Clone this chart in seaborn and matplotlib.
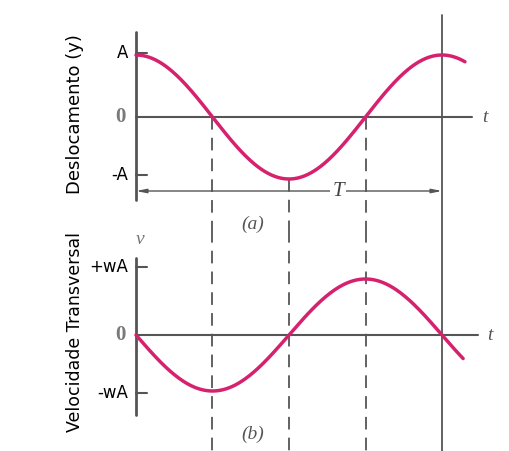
import numpy as np
import matplotlib
matplotlib.use("Agg")
import matplotlib.pyplot as plt
import seaborn as sns

# ---- data ----
period = 1.0                      # T
disp_amp = 1.0                    # A
vel_amp = 1.0                     # wA
t_end_top = 1.075                 # curve end (in units of T)
t_end_bot = 1.069
quarter_marks = [0.25, 0.5, 0.75]  # dashed guide lines
disp_ticks = [1.03, 0.0, -0.94]
disp_labels = ["A", "0", "-A"]
vel_ticks = [1.21, 0.0, -1.04]
vel_labels = ["+wA", "0", "-wA"]
ylabel_top = "Deslocamento (y)"
ylabel_bot = "Velocidade Transversal"

t_top = np.linspace(0, t_end_top, 300)
t_bot = np.linspace(0, t_end_bot, 300)
y_disp = disp_amp * np.cos(2 * np.pi * t_top / period)
y_vel = -vel_amp * np.sin(2 * np.pi * t_bot / period)

sns.set_style("white")
plt.rcParams["font.family"] = ["DejaVu Sans"]

W, H = 509, 451
fig = plt.figure(figsize=(W / 100, H / 100), dpi=100)
fig.patch.set_facecolor("white")

px_T = 306.0
x0 = 136.0
xlim = (-x0 / px_T, (W - x0) / px_T)

# top axes: rows 0..230, zero at row 117, 62 px per unit
top_h = 230
ax1 = fig.add_axes([0, 1 - top_h / H, 1, top_h / H])
u1 = 62.0
z1 = 117.0
ax1.set_xlim(*xlim)
ax1.set_ylim(-(top_h - z1) / u1, z1 / u1)

# bottom axes: rows 230..451, zero at row 335, 56 px per unit
bot_top = 230
ax2 = fig.add_axes([0, 0, 1, (H - bot_top) / H])
u2 = 56.0
z2 = 335.0
ax2.set_xlim(*xlim)
ax2.set_ylim(-(H - z2) / u2, (z2 - bot_top) / u2)

for ax in (ax1, ax2):
    ax.axis("off")

curve_col = "#d6226e"
axis_col = "#555555"
dash_col = "#555555"
dash = (0, (7, 4.5))
serif = ["Liberation Serif", "DejaVu Serif"]

# ----- top panel -----
ylo1 = ax1.get_ylim()[0]
ax1.plot([quarter_marks[0]] * 2, [0, ylo1], ls=dash, color=dash_col, lw=1.3)
ax1.plot([quarter_marks[1]] * 2, [-disp_amp, ylo1], ls=dash, color=dash_col, lw=1.3)
ax1.plot([quarter_marks[2]] * 2, [0, ylo1], ls=dash, color=dash_col, lw=1.3)
ax1.plot([period, period], [(z1 - 15) / u1, ylo1], color=axis_col, lw=1.3)
ax1.plot([0, 0], [(z1 - 32) / u1, (z1 - 200) / u1], color=axis_col, lw=2.0)
ax1.plot([0, 1.098], [0, 0], color=axis_col, lw=1.5)
for yt, lab in zip(disp_ticks, disp_labels):
    if lab != "0":
        ax1.plot([0, 0.035], [yt, yt], color=axis_col, lw=1.5)
        ax1.text(-0.025, yt, lab, ha="right", va="center", fontsize=12, color="black")
    else:
        ax1.text(-0.033, yt, lab, ha="right", va="center", fontsize=15,
                 color="#7a7a7a", family=serif, fontweight="bold")
sns.lineplot(x=t_top, y=y_disp, ax=ax1, color=curve_col, lw=2.5, sort=False)
ax1.text(1.141, 0, "t", ha="center", va="center", fontsize=14, style="italic",
         family=serif, color="#555555")
ya = (z1 - 191) / u1
ax1.annotate("", xy=(0, ya), xytext=(period, ya),
             arrowprops=dict(arrowstyle="<|-|>,head_length=0.6,head_width=0.12",
                             color=axis_col, lw=1.0, shrinkA=0, shrinkB=0))
ax1.text(0.66, ya, "T", ha="center", va="center", fontsize=15, style="italic",
         family=serif, color="#444444",
         bbox=dict(facecolor="white", edgecolor="none", pad=1.5))
ax1.text(0.382, (z1 - 224) / u1, "(a)", ha="center", va="center", fontsize=14,
         style="italic", family=serif, color="#555555")
ax1.text(-0.2, (z1 - 114) / u1, ylabel_top, rotation=90, ha="center", va="center",
         fontsize=13, color="black")

# ----- bottom panel -----
ylo2, yhi2 = ax2.get_ylim()
for qm in quarter_marks:
    ax2.plot([qm, qm], [yhi2, ylo2], ls=dash, color=dash_col, lw=1.3)
ax2.plot([period, period], [yhi2, ylo2], color=axis_col, lw=1.3)
ax2.plot([0, 0], [(z2 - 258) / u2, (z2 - 415) / u2], color=axis_col, lw=2.0)
ax2.plot([0, 1.118], [0, 0], color=axis_col, lw=1.5)
for yt, lab in zip(vel_ticks, vel_labels):
    if lab != "0":
        ax2.plot([0, 0.035], [yt, yt], color=axis_col, lw=1.5)
        ax2.text(-0.025, yt, lab, ha="right", va="center", fontsize=12, color="black")
    else:
        ax2.text(-0.033, yt, lab, ha="right", va="center", fontsize=15,
                 color="#7a7a7a", family=serif, fontweight="bold")
sns.lineplot(x=t_bot, y=y_vel, ax=ax2, color=curve_col, lw=2.5, sort=False)
ax2.text(1.157, 0, "t", ha="center", va="center", fontsize=14, style="italic",
         family=serif, color="#555555")
ax2.text(0.013, (z2 - 240) / u2, "v", ha="center", va="center", fontsize=14,
         style="italic", family=serif, color="#777777")
ax2.text(0.382, (z2 - 434) / u2, "(b)", ha="center", va="center", fontsize=14,
         style="italic", family=serif, color="#555555")
ax2.text(-0.2, (z2 - 332) / u2, ylabel_bot, rotation=90, ha="center", va="center",
         fontsize=12.5, color="black")

fig.savefig("out.png", dpi=100, facecolor="white")
